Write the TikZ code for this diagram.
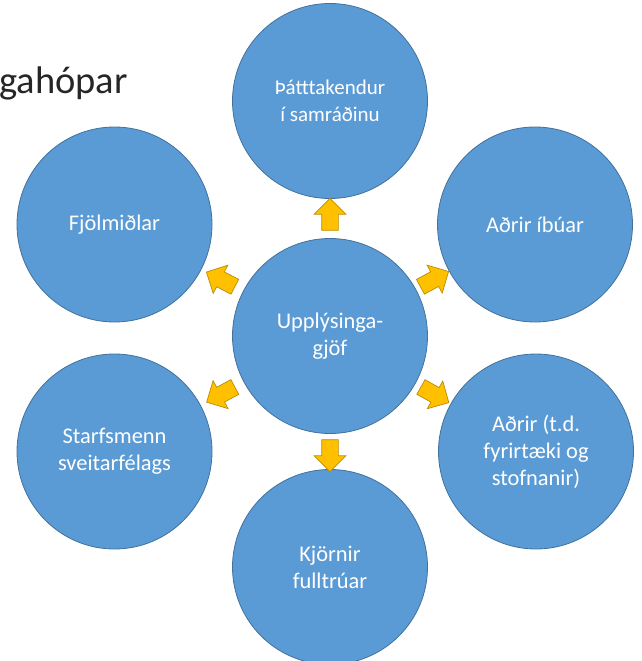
\documentclass[tikz,border=0pt]{standalone}
\usepackage{fontspec}
\setmainfont{Carlito}
\usetikzlibrary{shapes.arrows}

\definecolor{circblue}{HTML}{5B9BD5}
\definecolor{circedge}{HTML}{41719C}
\definecolor{arrgold}{HTML}{FFC000}
\definecolor{arredge}{HTML}{BC8C00}

\begin{document}
\begin{tikzpicture}[x=1pt,y=-1pt,
        group node/.style={circle,draw=circedge,fill=circblue,line width=0.8pt,
            minimum size=195pt,inner sep=0pt,text=white,align=center,
            font=\fontsize{22.4}{26.9}\selectfont},
        block arrow/.style={single arrow,draw=arredge,fill=arrgold,line width=0.7pt,
            minimum height=32pt,inner xsep=0pt,inner ysep=8pt,
            single arrow head extend=7.5pt,sloped,allow upside down}]

    \useasboundingbox (0,0) rectangle (641,661);
    \clip (0,0) rectangle (641,661);

    \node[anchor=base east,inner sep=0pt,text=black!85,font=\fontsize{38.5}{46}\selectfont] (title) at (128,93) {gahópar};

    \node[group node] (U) at (330,336) {Upplýsinga-\\gjöf};
    \node[group node,font=\fontsize{21}{26.7}\selectfont] (P) at (330,101) {Þátttakendur\\í samráðinu};
    \node[group node] (F) at (114.5,224.5) {Fjölmiðlar};
    \node[group node] (A) at (535,224.5) {Aðrir íbúar};
    \node[group node] (S) at (114.5,451.5) {Starfsmenn\\sveitarfélags};
    \node[group node] (O) at (536,451.5) {Aðrir (t.d.\\fyrirtæki og\\stofnanir)};
    \node[group node] (K) at (330,567) {Kjörnir\\fulltrúar};

    \path
    (U) -- node[block arrow] {} (P)
    (U) -- node[block arrow,pos=0.45] {} (F)
    (U) -- node[block arrow,pos=0.45] {} (A)
    (U) -- node[block arrow,pos=0.45] {} (S)
    (U) -- node[block arrow,pos=0.45] {} (O)
    (U) -- node[block arrow] {} (K);

\end{tikzpicture}
\end{document}
